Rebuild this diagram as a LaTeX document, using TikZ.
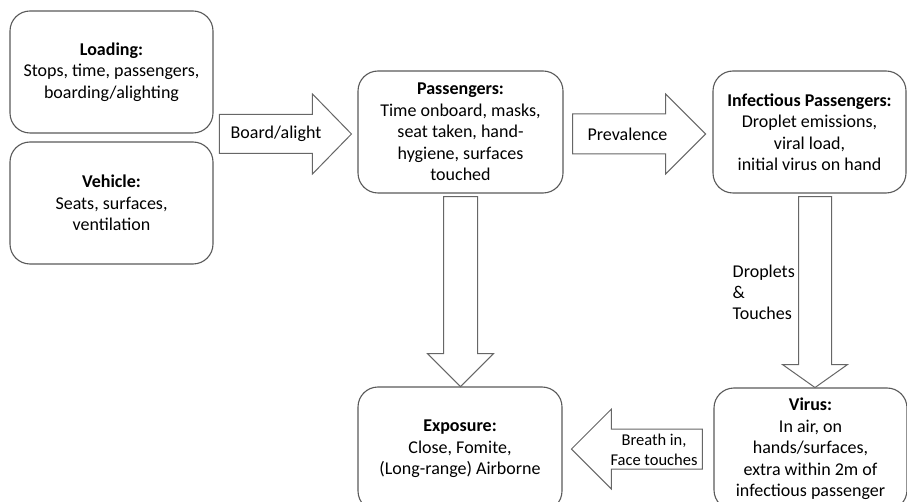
\documentclass[tikz,border=0pt]{standalone}
\usepackage{fontspec}
\setmainfont{Carlito}
\usetikzlibrary{calc}

\tikzset{
  box/.style={draw=black!65, line width=1.1pt, rounded corners=20pt, align=center,
    text=black, inner sep=0pt, font=\fontsize{18}{21.5}\selectfont},
  arrowline/.style={draw=black!60, line width=1pt, fill=white, line join=miter},
  lbl/.style={align=center, text=black, inner sep=1pt, font=\fontsize{18}{21}\selectfont},
  pics/fatarrow/.style args={#1/#2/#3/#4}{code={
    \draw[arrowline] (0,-#2) -- (#1-#4,-#2) -- (#1-#4,-#3) -- (#1,0)
      -- (#1-#4,#3) -- (#1-#4,#2) -- (0,#2) -- cycle;
  }}
}

\begin{document}
\begin{tikzpicture}[x=1pt, y=-1pt]
    \useasboundingbox (0,0) rectangle (907,502);
    \clip (0,0) rectangle (907,502);
    % boxes
    \node[box, minimum width=203, minimum height=122] (load) at (111.5,72)
        {\textbf{Loading:}\\Stops, time, passengers,\\boarding/alighting};
    \node[box, minimum width=203, minimum height=122] (veh) at (111.5,203)
        {\textbf{Vehicle:}\\Seats, surfaces,\\ventilation};
    \node[box, minimum width=205, minimum height=122] (pass) at (460.5,132)
        {\textbf{Passengers:}\\Time onboard, masks,\\seat taken, hand-\\hygiene, surfaces\\touched};
    \node[box, minimum width=193, minimum height=122] (infect) at (809.5,132)
        {\textbf{Infectious Passengers:}\\Droplet emissions,\\viral load,\\initial virus on hand};
    \node[box, minimum width=204, minimum height=124] (expo) at (460,449)
        {\textbf{Exposure:}\\Close, Fomite,\\(Long-range) Airborne};
    \node[box, minimum width=193, minimum height=122] (virus) at (810.5,449)
        {\textbf{Virus:}\\In air, on\\hands/surfaces,\\extra within 2m of\\infectious passenger};
    % block arrows
    \pic at ($(pass.west)+(-138,2)$) {fatarrow=132/19.5/40/39};
    \pic at ($(pass.east)+(9,2)$) {fatarrow=133/20/40/40};
    \pic[rotate=-90] at ($(pass.south)+(0,3)$) {fatarrow=190/17/33/33};
    \pic[rotate=-90] at ($(infect.south)+(5.5,3)$) {fatarrow=191/16.5/32.5/23};
    \pic[rotate=180] at ($(virus.west)+(-11,0)$) {fatarrow=131/20/40/40};
    % labels
    \node[lbl] (board) at (276,134) {Board/alight};
    \node[lbl] (prev) at (627.5,134) {Prevalence};
    \node[lbl, anchor=east, align=left] (drop) at (796,292) {Droplets\\\&\\Touches};
    \node[lbl, font=\fontsize{16.5}{20}\selectfont] (breath) at (654,450) {Breath in,\\Face touches};
\end{tikzpicture}
\end{document}
